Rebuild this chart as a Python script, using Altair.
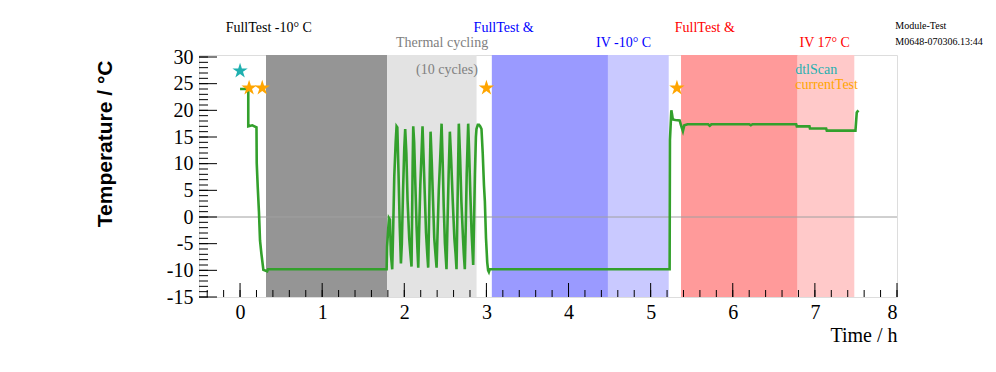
import altair as alt
import pandas as pd

# ---------------- data ----------------
time_h = [0.00, 0.10, 0.10, 0.15, 0.20, 0.203, 0.215, 0.23, 0.243, 0.26, 0.284, 0.33, 0.34,
          1.785, 1.79, 1.813, 1.825, 1.837, 1.853, 1.865, 1.878, 1.895, 1.906, 1.915, 1.93, 1.945, 1.959,
          1.97, 1.985, 2.000, 2.011, 2.025, 2.04, 2.06, 2.075, 2.088,
          2.095, 2.102, 2.109, 2.12, 2.135, 2.15, 2.16, 2.170,
          2.18, 2.195, 2.21, 2.222, 2.235, 2.25, 2.265, 2.28, 2.291,
          2.30, 2.31, 2.320, 2.335, 2.35, 2.365, 2.38, 2.393,
          2.405, 2.42, 2.44, 2.454, 2.468, 2.48, 2.495, 2.514,
          2.525, 2.54, 2.555, 2.57, 2.59, 2.61, 2.625, 2.636,
          2.645, 2.655, 2.664, 2.68, 2.695, 2.715, 2.725, 2.737,
          2.748, 2.76, 2.778, 2.79, 2.805, 2.82, 2.839,
          2.848, 2.86, 2.872, 2.879, 2.895, 2.91, 2.925, 2.94, 2.955, 2.97, 2.981, 2.995, 3.01, 3.021,
          3.03, 3.04, 5.231, 5.235, 5.252, 5.26, 5.27, 5.30, 5.353, 5.37, 5.393, 5.41, 5.45,
          5.70, 5.72, 5.74, 6.20, 6.22, 6.24, 6.772, 6.78, 6.934, 6.94, 7.137, 7.145, 7.494, 7.51, 7.53]
temp_c = [24.0, 24.0, 17.0, 17.2, 16.8, 10.1, 5.7, 1.0, -4.4, -6.9, -9.9, -10.2, -9.8,
          -9.8, -5.6, -0.2, -0.5, -7.0, -9.8, -2.0, 7.6, 14.0, 17.0, 16.8, 8.0, -2.0, -8.7,
          -5.0, 5.0, 13.0, 16.5, 12.0, 3.0, -4.0, -7.0, -9.3,
          0.0, 10.0, 17.0, 14.0, 6.0, -2.0, -6.0, -9.5,
          -3.0, 6.0, 12.0, 17.0, 11.0, 4.0, -3.0, -7.0, -9.5,
          -2.0, 8.0, 16.0, 10.0, 3.0, -4.0, -7.0, -9.5,
          -3.0, 5.0, 12.0, 17.5, 10.0, 2.0, -5.0, -9.8,
          -2.0, 8.0, 16.0, 11.0, 3.0, -4.0, -7.0, -9.8,
          -1.0, 9.0, 17.5, 11.0, 3.0, -4.0, -7.0, -9.8,
          -2.0, 8.0, 17.5, 12.0, 4.0, -3.0, -9.0,
          -2.0, 8.0, 15.0, 16.5, 17.3, 17.3, 17.0, 16.5, 12.0, 6.0, 3.0, -4.0, -8.5, -10.0,
          -10.3, -9.8, -9.8, 14.4, 20.0, 19.3, 18.3, 18.2, 18.1, 17.2, 16.1, 17.2, 17.4,
          17.4, 17.1, 17.4, 17.4, 17.2, 17.4, 17.4, 17.0, 17.0, 16.6, 16.6, 16.2, 16.2, 19.6, 20.0]

# test markers
marker_test = ["dtlScan", "currentTest", "currentTest", "currentTest", "currentTest"]
marker_time = [0.00, 0.11, 0.27, 3.00, 5.32]
marker_temp = [27.4, 24.2, 24.2, 24.2, 24.2]

# shaded phases
phase_group = ["black-hatch", "gray-dots", "blue-hatch", "blue-dots", "red-hatch", "red-dots"]
phase_start = [0.316, 1.79, 3.066, 4.48, 5.37, 6.79]
phase_end = [1.79, 2.88, 4.48, 5.22, 6.79, 7.48]

# annotation labels
label_text = ["FullTest -10° C", "Thermal cycling", "(10 cycles)", "FullTest &", "IV -10° C",
              "FullTest &", "IV 17° C"]
label_time = [0.35, 2.46, 2.52, 3.21, 4.67, 5.66, 7.12]
label_temp = [35.5, 32.6, 27.6, 35.5, 32.6, 35.5, 32.6]
label_group = ["black", "gray", "gray", "blue", "blue", "red", "red"]

legend_text = ["dtlScan", "currentTest"]
legend_time = [6.76, 6.76]
legend_temp = [27.6, 24.8]

info_text = ["Module-Test", "M0648-070306.13:44"]
info_time = [7.98, 7.98]
info_temp = [35.8, 32.8]

y_major = list(range(-15, 31, 5))
y_minor = list(range(-15, 31))
x_major = list(range(0, 9))
x_minor = [round(-0.4 + 0.2 * i, 1) for i in range(43)]

# ---------------- chart ----------------
W, H = 698, 242
xs = alt.Scale(domain=[-0.5, 8], nice=False, zero=False)
ys = alt.Scale(domain=[-15, 30.375], nice=False, zero=False)
SERIF = "Liberation Serif"
MINUS_FIX = "replace(datum.label, '\u2212', '-')"

X_AX = alt.Axis(
    title="Time / h", values=x_major, format="d", ticks=False, domain=False, grid=False,
    labelFont=SERIF, labelFontSize=20, labelColor="black", labelPadding=5,
    titleFont=SERIF, titleFontSize=20, titleFontWeight="normal", titleColor="black",
    titleX=W, titleY=38, titleAlign="right", titleBaseline="middle")
Y_AX = alt.Axis(
    title="Temperature / °C", values=y_major, ticks=False, domain=False, grid=False,
    labelExpr=MINUS_FIX,
    labelFont=SERIF, labelFontSize=20, labelColor="black", labelPadding=6,
    titleFont="Liberation Sans", titleFontSize=21, titleFontWeight="bold", titleColor="black",
    titleAngle=270, titleX=-94, titleY=5, titleAlign="right", titleBaseline="middle")


def X(f):
    return alt.X(f, scale=xs, axis=X_AX, title="Time / h")


def Y(f):
    return alt.Y(f, scale=ys, axis=Y_AX, title="Temperature / °C")


trace = pd.DataFrame({"t": time_h, "T": temp_c, "i": range(len(time_h))})
markers = pd.DataFrame({"t": marker_time, "T": marker_temp, "test": marker_test})
phases = pd.DataFrame({"g": phase_group, "s": phase_start, "e": phase_end})
labels = pd.DataFrame({"text": label_text, "t": label_time, "T": label_temp, "g": label_group})
legend = pd.DataFrame({"text": legend_text, "t": legend_time, "T": legend_temp, "test": legend_text})
info = pd.DataFrame({"text": info_text, "t": info_time, "T": info_temp})

grp_dom = ["black-hatch", "gray-dots", "blue-hatch", "blue-dots", "red-hatch", "red-dots"]
grp_col = ["#959595", "#e3e3e3", "#9a9aff", "#c9c9ff", "#ff9a9a", "#ffc9c9"]

rects = alt.Chart(phases).mark_rect().encode(
    x=X("s:Q"),
    x2="e:Q",
    y=alt.value(0),
    y2=alt.value(H),
    color=alt.Color("g:N", scale=alt.Scale(domain=grp_dom, range=grp_col), legend=None),
)

zero = alt.Chart(pd.DataFrame({"v": [0]})).mark_rule(color="#a0a0a0", strokeWidth=1).encode(
    y=Y("v:Q"), x=alt.value(0), x2=alt.value(W))

line = alt.Chart(trace).mark_line(color="#33a02c", strokeWidth=2.6, strokeJoin="miter").encode(
    x=X("t:Q"), y=Y("T:Q"), order="i:Q")

STAR = ("M0,-1 L0.225,-0.309 L0.951,-0.309 L0.363,0.118 L0.588,0.809 L0,0.382 "
        "L-0.588,0.809 L-0.363,0.118 L-0.951,-0.309 L-0.225,-0.309 Z")
test_scale = alt.Scale(domain=["dtlScan", "currentTest"], range=["#1fb0b0", "#ffa500"])

stars = alt.Chart(markers).mark_point(shape=STAR, filled=True, size=260, opacity=1).encode(
    x=X("t:Q"), y=Y("T:Q"),
    color=alt.Color("test:N", scale=test_scale, legend=None),
)

lbl = alt.Chart(labels).mark_text(font=SERIF, fontSize=14, align="center", baseline="middle").encode(
    x=X("t:Q"), y=Y("T:Q"),
    text="text:N",
    color=alt.Color("g:N", scale=alt.Scale(domain=["black", "gray", "blue", "red"],
                                           range=["#000000", "#808080", "#0000ff", "#ff0000"]), legend=None),
)

leg = alt.Chart(legend).mark_text(font=SERIF, fontSize=14, align="left", baseline="middle").encode(
    x=X("t:Q"), y=Y("T:Q"),
    text="text:N",
    color=alt.Color("test:N", scale=test_scale, legend=None),
)

inf = alt.Chart(info).mark_text(font=SERIF, fontSize=10, align="left", baseline="middle", color="black").encode(
    x=X("t:Q"), y=Y("T:Q"), text="text:N")

ytm = alt.Chart(pd.DataFrame({"v": y_major})).mark_rule(color="black", strokeWidth=1).encode(
    y=Y("v:Q"), x=alt.value(0), x2=alt.value(18))
ytn = alt.Chart(pd.DataFrame({"v": y_minor})).mark_rule(color="black", strokeWidth=1).encode(
    y=Y("v:Q"), x=alt.value(0), x2=alt.value(9))
xtm = alt.Chart(pd.DataFrame({"v": x_major})).mark_rule(color="black", strokeWidth=1).encode(
    x=X("v:Q"), y=alt.value(H), y2=alt.value(H - 14))
xtn = alt.Chart(pd.DataFrame({"v": x_minor})).mark_rule(color="black", strokeWidth=1).encode(
    x=X("v:Q"), y=alt.value(H), y2=alt.value(H - 7))

chart = alt.layer(rects, zero, line, stars, lbl, leg, inf, ytm, ytn, xtm, xtn).resolve_scale(
    color="independent"
).properties(
    width=W, height=H,
    autosize=alt.AutoSizeParams(type="none"),
    padding={"left": 191, "top": 47, "right": 91, "bottom": 67},
).configure_view(stroke="black", strokeWidth=1.2).configure(background="white")

chart.save("out.html", embed_options={"renderer": "svg", "actions": False})
